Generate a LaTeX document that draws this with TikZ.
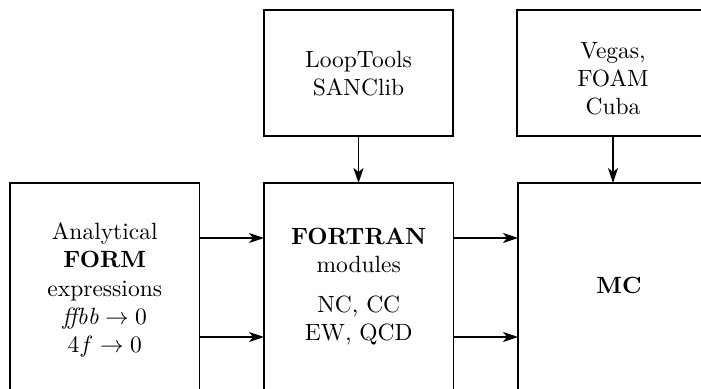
\documentclass[tikz,border=0pt]{standalone}
\usetikzlibrary{arrows.meta}
\begin{document}
\begin{tikzpicture}[x=1pt,y=-1pt,
  box/.style={draw,line width=1.3pt,inner sep=0pt,outer sep=0pt},
  lbl/.style={scale=2.35,align=center,inner sep=0pt},
  arr/.style={line width=1.3pt,-{Stealth[length=15pt,width=10pt,inset=4pt]}}]
\useasboundingbox (0,0) rectangle (701,388);
% boxes
\node[box,minimum width=189.5pt,minimum height=214pt] (form) at (104.75,290) {};
\node[box,minimum width=189.5pt,minimum height=214pt] (fortran) at (358.75,290) {};
\node[box,minimum width=202pt,minimum height=214pt] (mc) at (619,290) {};
\node[box,minimum width=189pt,minimum height=126pt] (loop) at (358.5,73) {};
\node[box,minimum width=192pt,minimum height=126pt] (vegas) at (613,73) {};
% texts
\node[lbl] (formtxt) at (104.75,290) {Analytical\\\textbf{FORM}\\expressions\\$\textit{ffbb}\to 0$\\$4f\to 0$};
\node[lbl] (fortxt) at (358.75,286.5) {\textbf{FORTRAN}\\modules\\[5pt]NC, CC\\EW, QCD};
\node[lbl] (mctxt) at (619,285) {\textbf{MC}};
\node[lbl] (looptxt) at (358.5,73.5) {LoopTools\\SANClib};
\node[lbl] (vegastxt) at (613,79) {Vegas,\\FOAM\\Cuba};
% arrow heights
\coordinate (r1) at (0,238);
\coordinate (r2) at (0,337);
% connectors
\draw[arr] (form.east |- r1) -- (fortran.west |- r1);
\draw[arr] (form.east |- r2) -- (fortran.west |- r2);
\draw[arr] (fortran.east |- r1) -- (mc.west |- r1);
\draw[arr] (fortran.east |- r2) -- (mc.west |- r2);
\draw[arr] (loop.south) -- (fortran.north -| loop.south);
\draw[arr] (vegas.south) -- (mc.north -| vegas.south);
\end{tikzpicture}
\end{document}
